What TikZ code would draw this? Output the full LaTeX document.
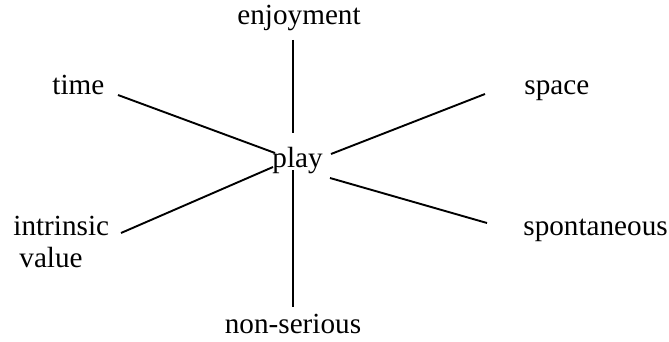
\documentclass[tikz,border=0pt]{standalone}
\usepackage{fontspec}
\setmainfont{Liberation Serif}
\begin{document}
\begin{tikzpicture}[x=0.5pt,y=-0.5pt,
  lbl/.style={anchor=base west, inner sep=0pt, font=\fontsize{14.6}{17}\selectfont},
  conn/.style={line width=0.95pt}]
\useasboundingbox (0,0) rectangle (669,342);
% labels
\node[lbl] (enj) at (237,25) {enjoyment};
\node[lbl] (time) at (52,95) {time};
\node[lbl] (intr) at (13,235) {intrinsic};
\node[lbl] (val) at (19,267) {value};
\node[lbl] (space) at (524,95) {space};
\node[lbl] (spon) at (523,235) {spontaneous};
\node[lbl] (play) at (272,168) {play};
\node[lbl, anchor=base] (non) at (293,333) {non-serious};
% connector ends
\coordinate (t1) at (118,95);  \coordinate (t2) at (275,153);
\coordinate (i1) at (121,233); \coordinate (i2) at (273,167);
\coordinate (s1) at (485,94);  \coordinate (s2) at (331,154);
\coordinate (p1) at (487,223); \coordinate (p2) at (330,178);
\coordinate (v1) at (292.7,40);  \coordinate (v2) at (292.7,133);
\coordinate (v3) at (292.7,170); \coordinate (v4) at (292.7,307);
% connectors
\draw[conn] (t1) -- (t2);
\draw[conn] (i1) -- (i2);
\draw[conn] (s1) -- (s2);
\draw[conn] (p1) -- (p2);
\draw[conn] (v1) -- (v2);
\draw[conn] (v3) -- (v4);
\end{tikzpicture}
\end{document}
